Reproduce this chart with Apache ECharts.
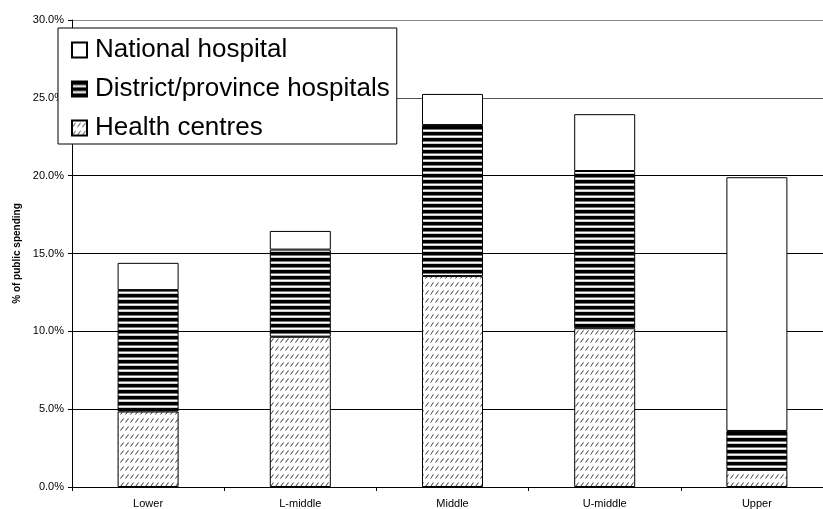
<!DOCTYPE html>
<html>
<head>
<meta charset="utf-8">
<script src="https://cdn.jsdelivr.net/npm/echarts@6/dist/echarts.min.js"></script>
<style>
html,body{margin:0;padding:0;background:#fff;}
#chart{width:823px;height:509px;}
</style>
</head>
<body>
<div id="chart"></div>
<script>
var categories = ['Lower', 'L-middle', 'Middle', 'U-middle', 'Upper'];
var healthCentres = [4.85, 9.65, 13.55, 10.2, 1.1];
var districtHospitals = [7.8, 5.6, 9.7, 10.1, 2.5];
var nationalHospital = [1.75, 1.2, 2.0, 3.65, 16.3];
var yTicks = [0, 5, 10, 15, 20, 25, 30];

function stripeTile() {
  var c = document.createElement('canvas');
  c.width = 6; c.height = 6;
  var g = c.getContext('2d');
  g.fillStyle = '#fff'; g.fillRect(0, 0, 6, 6);
  g.fillStyle = '#000'; g.fillRect(0, 0, 6, 3);
  g.fillStyle = '#777'; g.fillRect(0, 3, 6, 1);
  g.fillStyle = '#ccc'; g.fillRect(0, 5, 6, 1);
  return c;
}
function hatchTile() {
  var c = document.createElement('canvas');
  c.width = 5; c.height = 8;
  var g = c.getContext('2d');
  g.fillStyle = '#fff'; g.fillRect(0, 0, 5, 8);
  g.strokeStyle = '#333'; g.lineWidth = 1;
  g.beginPath(); g.moveTo(0.5, 6.5); g.lineTo(3.5, 2.5); g.stroke();
  return c;
}

var chart = echarts.init(document.getElementById('chart'), null, {renderer: 'canvas'});
var barStyle = {borderColor: '#000', borderWidth: 1};
var font = 'Liberation Sans, Arial, sans-serif';
chart.setOption({
  animation: false,
  backgroundColor: '#fff',
  grid: {left: 72, right: -10, top: 20, bottom: 22, containLabel: false, outerBoundsMode: 'none'},
  legend: {
    left: 58, top: 28, orient: 'vertical',
    data: ['National hospital', 'District/province hospitals', 'Health centres'],
    backgroundColor: '#fff', borderColor: '#000', borderWidth: 1,
    padding: [9, 7, 3, 13],
    itemWidth: 15, itemHeight: 15, itemGap: 13,
    textStyle: {fontSize: 26, color: '#000', fontFamily: font, padding: [0, 0, 0, 3]},
    icon: 'rect'
  },
  xAxis: {
    type: 'category', data: categories,
    axisLine: {lineStyle: {color: '#000', width: 1}},
    axisTick: {show: true, alignWithLabel: false, length: 4, lineStyle: {color: '#000'}},
    axisLabel: {fontSize: 11, color: '#000', margin: 11, fontFamily: font}
  },
  yAxis: {
    type: 'value', min: 0, max: 30, interval: 5,
    name: '% of public spending', nameLocation: 'middle', nameGap: 50,
    nameTextStyle: {fontSize: 10, fontWeight: 'bold', color: '#000', fontFamily: font},
    axisLine: {show: true, lineStyle: {color: '#000'}},
    axisTick: {show: true, length: 4, lineStyle: {color: '#000'}},
    axisLabel: {fontSize: 11, color: '#000', margin: 8, fontFamily: font,
      formatter: function (v) { return v.toFixed(1) + '%'; }},
    splitLine: {show: true, lineStyle: {color: ['#000', '#000', '#000', '#000', '#000', '#555', '#888'], width: 1}}
  },
  series: [
    {name: 'Health centres', type: 'bar', stack: 's', barWidth: 61, data: healthCentres,
      itemStyle: Object.assign({color: {image: hatchTile(), repeat: 'repeat'}}, barStyle)},
    {name: 'District/province hospitals', type: 'bar', stack: 's', barWidth: 61, data: districtHospitals,
      itemStyle: Object.assign({color: {image: stripeTile(), repeat: 'repeat'}}, barStyle)},
    {name: 'National hospital', type: 'bar', stack: 's', barWidth: 61, data: nationalHospital,
      itemStyle: Object.assign({color: '#fff'}, barStyle)}
  ]
});
</script>
</body>
</html>
